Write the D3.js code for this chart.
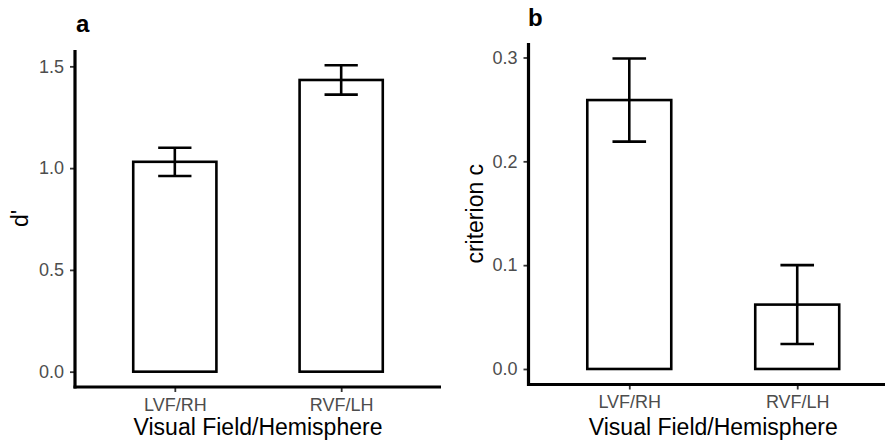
<!DOCTYPE html>
<html>
<head>
<meta charset="utf-8">
<script src="https://cdn.jsdelivr.net/npm/d3@7"></script>
<style>
  html, body { margin: 0; padding: 0; background: #fff; }
  svg { display: block; font-family: "Liberation Sans", Arial, Helvetica, sans-serif; }
</style>
</head>
<body>
<svg id="chart" width="885" height="445"></svg>
<script>
// Conditions on the x axis
const categories = ["LVF/RH", "RVF/LH"];

// Panel a: sensitivity d' (mean with error bar limits)
const dPrimeMean = [1.031, 1.433];
const dPrimeLow  = [0.961, 1.361];
const dPrimeHigh = [1.100, 1.505];
const dPrimeTicks = [0.0, 0.5, 1.0, 1.5];

// Panel b: response criterion c (mean with error bar limits)
const criterionMean = [0.259, 0.062];
const criterionLow  = [0.219, 0.024];
const criterionHigh = [0.299, 0.100];
const criterionTicks = [0.0, 0.1, 0.2, 0.3];

const svg = d3.select("#chart");

function drawPanel(cfg) {
  const g = svg.append("g");
  const { left, right, top, bottom } = cfg;

  // y domain: 0 to max upper limit, expanded by 5% on both ends
  const maxV = d3.max(cfg.high);
  const pad = maxV * 0.05;
  const y = d3.scaleLinear().domain([-pad, maxV + pad]).range([bottom, top]);
  const x = d3.scalePoint().domain(categories).range([left, right]).padding(0.6);
  const bw = x.step() * 0.5;
  const capHalf = bw * 0.2;

  const rows = categories.map((c, i) => ({ c, m: cfg.mean[i], lo: cfg.low[i], hi: cfg.high[i] }));

  // bars
  g.selectAll("rect.bar").data(rows).join("rect")
    .attr("class", "bar")
    .attr("x", d => x(d.c) - bw / 2)
    .attr("width", bw)
    .attr("y", d => y(d.m))
    .attr("height", d => y(0) - y(d.m))
    .attr("fill", "#fff")
    .attr("stroke", "#000")
    .attr("stroke-width", 2.6);

  // error bars
  const eb = g.selectAll("g.err").data(rows).join("g").attr("class", "err")
    .attr("stroke", "#000").attr("stroke-width", 2.6).attr("fill", "none");
  eb.append("line").attr("x1", d => x(d.c)).attr("x2", d => x(d.c))
    .attr("y1", d => y(d.lo)).attr("y2", d => y(d.hi));
  eb.append("line").attr("x1", d => x(d.c) - capHalf).attr("x2", d => x(d.c) + capHalf)
    .attr("y1", d => y(d.hi)).attr("y2", d => y(d.hi));
  eb.append("line").attr("x1", d => x(d.c) - capHalf).attr("x2", d => x(d.c) + capHalf)
    .attr("y1", d => y(d.lo)).attr("y2", d => y(d.lo));

  // y axis
  const yAxis = g.append("g").attr("transform", `translate(${left},0)`)
    .call(d3.axisLeft(y).tickValues(cfg.ticks).tickFormat(d3.format(".1f")).tickSize(5).tickPadding(6));
  yAxis.select(".domain").remove();
  yAxis.selectAll(".tick line").attr("stroke", "#333").attr("stroke-width", 1.8);
  yAxis.selectAll(".tick text").attr("fill", "#4d4d4d").attr("font-size", 18)
    .attr("font-family", null);

  // x axis
  const xAxis = g.append("g").attr("transform", `translate(0,${bottom})`)
    .call(d3.axisBottom(x).tickSize(5).tickPadding(6));
  xAxis.select(".domain").remove();
  xAxis.selectAll(".tick line").attr("stroke", "#333").attr("stroke-width", 1.8);
  xAxis.selectAll(".tick text").attr("fill", "#4d4d4d").attr("font-size", 18)
    .attr("font-family", null).attr("dy", "0.71em");

  // axis lines
  g.append("line").attr("x1", left).attr("x2", left).attr("y1", top).attr("y2", bottom + 1.5)
    .attr("stroke", "#000").attr("stroke-width", 3.2);
  g.append("line").attr("x1", left - 1.5).attr("x2", right).attr("y1", bottom).attr("y2", bottom)
    .attr("stroke", "#000").attr("stroke-width", 3.2);

  // axis titles
  g.append("text").attr("x", (left + right) / 2).attr("y", 435)
    .attr("text-anchor", "middle").attr("font-size", 23).attr("fill", "#000")
    .text("Visual Field/Hemisphere");
  g.append("text")
    .attr("transform", `translate(${cfg.yTitleX},${(top + bottom) / 2}) rotate(-90)`)
    .attr("text-anchor", "middle").attr("dy", "0.35em").attr("font-size", 23).attr("fill", "#000")
    .text(cfg.yTitle);

  // panel tag
  g.append("text").attr("x", cfg.tagX).attr("y", cfg.tagY)
    .attr("font-size", 24).attr("font-weight", "bold").attr("fill", "#000")
    .text(cfg.tag);
}

drawPanel({
  left: 75, right: 441, top: 50, bottom: 387,
  mean: dPrimeMean, low: dPrimeLow, high: dPrimeHigh, ticks: dPrimeTicks,
  yTitle: "d'", yTitleX: 20, tag: "a", tagX: 76, tagY: 32
});

drawPanel({
  left: 528.5, right: 898, top: 43, bottom: 384.5,
  mean: criterionMean, low: criterionLow, high: criterionHigh, ticks: criterionTicks,
  yTitle: "criterion c", yTitleX: 475, tag: "b", tagX: 528, tagY: 26
});
</script>
</body>
</html>
